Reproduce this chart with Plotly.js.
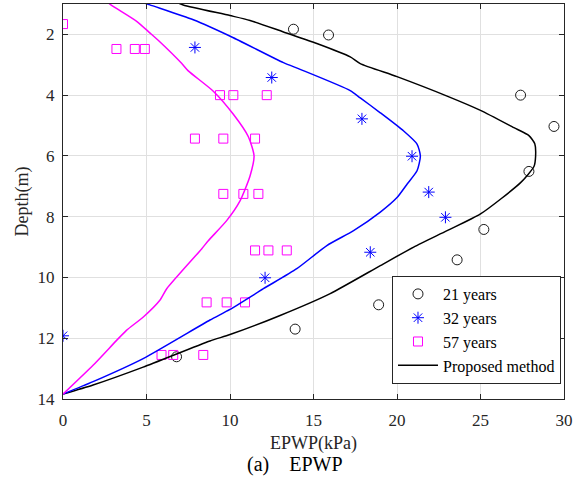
<!DOCTYPE html>
<html>
<head>
<meta charset="utf-8">
<script src="https://cdn.plot.ly/plotly-3.0.1.min.js"></script>
<style>
html,body{margin:0;padding:0;background:#fff;}
#chart{width:584px;height:482px;}
</style>
</head>
<body>
<div id="chart"></div>
<script>
// Measured data, 21 years (circles)
const y21_x = [13.8, 15.9, 27.4, 29.4, 27.9, 25.2, 23.6, 18.9, 13.9, 6.8];
const y21_d = [1.83, 2.02, 4.0, 5.03, 6.51, 8.42, 9.42, 10.9, 11.7, 12.61];
// Measured data, 32 years (asterisks)
const y32_x = [7.9, 12.5, 17.9, 20.9, 21.9, 22.9, 18.4, 12.1, 0];
const y32_d = [2.43, 3.42, 4.78, 6.01, 7.19, 8.02, 9.17, 10.01, 11.92];
// Measured data, 57 years (squares)
const y57_x = [0, 3.2, 4.3, 4.9, 9.4, 10.2, 12.2, 7.9, 9.6, 11.5, 9.6, 10.8, 11.7, 11.5, 12.3, 13.4, 8.6, 9.8, 10.9, 5.9, 6.6, 8.4];
const y57_d = [1.66, 2.48, 2.48, 2.48, 4.0, 4.0, 4.0, 5.43, 5.43, 5.43, 7.25, 7.25, 7.25, 9.11, 9.11, 9.11, 10.82, 10.82, 10.82, 12.55, 12.55, 12.55];
// Proposed method, 21 years (black)
const p21_x = [6.6, 7.2, 10.0, 11.2, 13.2, 15.2, 17.2, 17.8, 20.0, 23.0, 25.0, 27.0, 27.9, 28.25, 28.3, 28.2, 27.4, 25.0, 23.0, 21.0, 19.0, 16.0, 13.0, 10.0, 8.8, 4.8, 1.8, 0];
const p21_d = [0.9, 1.03, 1.38, 1.54, 1.92, 2.30, 2.74, 2.96, 3.39, 4.03, 4.5, 5.07, 5.33, 5.6, 6.0, 6.35, 6.88, 7.91, 8.46, 9.0, 9.61, 10.53, 11.25, 11.88, 12.09, 12.95, 13.54, 13.84];
// Proposed method, 32 years (blue)
const p32_x = [4.8, 5.2, 7.8, 10.2, 13.2, 14.2, 17.2, 17.8, 19.0, 20.4, 21.2, 21.4, 21.2, 20.6, 20.0, 19.0, 17.4, 15.8, 14.0, 12.0, 10.0, 8.8, 4.8, 1.8, 0];
const p32_d = [0.95, 1.03, 1.52, 2.11, 2.93, 3.15, 3.85, 4.09, 4.58, 5.18, 5.61, 6.0, 6.49, 6.93, 7.37, 7.85, 8.46, 8.95, 9.71, 10.37, 11.05, 11.4, 12.67, 13.43, 13.84];
// Proposed method, 57 years (magenta)
const p57_x = [2.7, 2.87, 4.41, 5.2, 5.81, 7.1, 7.5, 9.0, 10.2, 11.1, 11.44, 11.2, 10.6, 9.8, 8.7, 8.3, 6.21, 5.8, 4.81, 3.8, 3.21, 1.8, 0];
const p57_d = [0.95, 1.03, 1.57, 1.95, 2.25, 2.95, 3.2, 3.87, 4.63, 5.37, 6.0, 6.66, 7.48, 8.13, 8.79, 9.06, 10.37, 10.75, 11.3, 11.74, 12.07, 12.89, 13.84];

const xTicks = [0, 5, 10, 15, 20, 25, 30];
const yTicks = [2, 4, 6, 8, 10, 12, 14];

const FONT = "'Liberation Serif', 'Times New Roman', serif";
const AX = '#262626';

const traces = [
  {x: y21_x, y: y21_d, mode: 'markers', name: '21 years', type: 'scatter',
   marker: {symbol: 'circle-open', size: 10, color: '#1a1a1a', line: {width: 1, color: '#1a1a1a'}}},
  {x: y32_x, y: y32_d, mode: 'markers', name: '32 years', type: 'scatter',
   marker: {symbol: 'asterisk-open', size: 10, color: '#0000ff', line: {width: 1, color: '#0000ff'}}},
  {x: y57_x, y: y57_d, mode: 'markers', name: '57 years', type: 'scatter',
   marker: {symbol: 'square-open', size: 9, color: '#ff00ff', line: {width: 1, color: '#ff00ff'}}},
  {x: p21_x, y: p21_d, mode: 'lines', name: 'Proposed method', type: 'scatter',
   line: {color: '#000000', width: 1.5, shape: 'spline', smoothing: 0.6}},
  {x: p32_x, y: p32_d, mode: 'lines', name: '32 years model', type: 'scatter', showlegend: false,
   line: {color: '#0000ff', width: 1.5, shape: 'spline', smoothing: 0.6}},
  {x: p57_x, y: p57_d, mode: 'lines', name: '57 years model', type: 'scatter', showlegend: false,
   line: {color: '#ff00ff', width: 1.5, shape: 'spline', smoothing: 0.6}}
];

const layout = {
  width: 584, height: 482,
  margin: {l: 63, r: 20, t: 4, b: 83},
  paper_bgcolor: '#ffffff', plot_bgcolor: '#ffffff',
  font: {family: FONT, size: 16, color: AX},
  showlegend: true,
  xaxis: {
    range: [0, 30], tickvals: xTicks, ticktext: xTicks.map(String),
    showgrid: true, gridcolor: '#e0e0e0', gridwidth: 1, zeroline: false,
    showline: true, linecolor: AX, linewidth: 1, mirror: 'ticks',
    ticks: 'inside', ticklen: 5, tickcolor: AX, tickwidth: 1,
    tickfont: {family: FONT, size: 17, color: AX}, ticklabelstandoff: 6,
    title: {text: 'EPWP(kPa)', font: {family: FONT, size: 18, color: AX}, standoff: 6}
  },
  yaxis: {
    range: [14, 1], tickvals: yTicks, ticktext: yTicks.map(String),
    showgrid: true, gridcolor: '#e0e0e0', gridwidth: 1, zeroline: false,
    showline: true, linecolor: AX, linewidth: 1, mirror: 'ticks',
    ticks: 'inside', ticklen: 5, tickcolor: AX, tickwidth: 1,
    tickfont: {family: FONT, size: 17, color: AX}, ticklabelstandoff: 4,
    title: {text: 'Depth(m)', font: {family: FONT, size: 18, color: AX}, standoff: 4}
  },
  legend: {
    x: 0.994, y: 0.038, xanchor: 'right', yanchor: 'bottom',
    bgcolor: '#ffffff', bordercolor: AX, borderwidth: 1,
    font: {family: FONT, size: 16, color: '#000'},
    tracegroupgap: 0, itemwidth: 40
  },
  annotations: [
    {text: '(a)    EPWP', xref: 'paper', yref: 'paper', x: 0.463, y: -0.167,
     xanchor: 'center', yanchor: 'middle', showarrow: false,
     font: {family: FONT, size: 20, color: '#000'}}
  ]
};

Plotly.newPlot('chart', traces, layout, {displayModeBar: false, staticPlot: true});
</script>
</body>
</html>
